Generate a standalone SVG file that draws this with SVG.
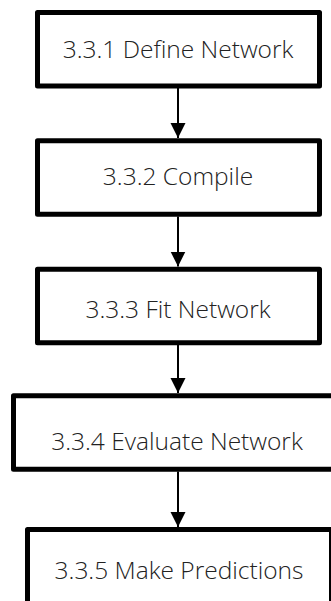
<svg xmlns="http://www.w3.org/2000/svg" width="331" height="601" viewBox="0 0 331 601">
<style>
.box{fill:#fff;stroke:#000;stroke-width:5;stroke-linejoin:round}
.lbl{font-family:"Open Sans","Noto Sans",sans-serif;font-weight:300;font-size:24.5px;fill:#222;text-anchor:middle}
.edge{stroke:#000;stroke-width:2;fill:none}
</style>
<defs>
<marker id="ah" markerUnits="userSpaceOnUse" markerWidth="16" markerHeight="16" viewBox="0 0 16 16" refX="15" refY="8" orient="auto">
<path d="M0,0.5 L15,8 L0,15.5 Z" fill="#000"/>
</marker>
</defs>
<rect width="331" height="601" fill="#fff"/>
<g id="n1"><rect class="box" x="37.5" y="12.5" width="282" height="73.5"/><text class="lbl" x="178" y="58">3.3.1 Define Network</text></g>
<g id="n2"><rect class="box" x="37.5" y="140.8" width="282" height="73.5"/><text class="lbl" x="178" y="185">3.3.2 Compile</text></g>
<g id="n3"><rect class="box" x="37.5" y="269.2" width="282" height="73.5"/><text class="lbl" x="178" y="318">3.3.3 Fit Network</text></g>
<g id="n4"><rect class="box" x="13.5" y="395.8" width="330" height="73.5"/><text class="lbl" x="177" y="450">3.3.4 Evaluate Network</text></g>
<g id="n5"><rect class="box" x="27.5" y="529.5" width="304" height="90"/><text class="lbl" x="179" y="579">3.3.5 Make Predictions</text></g>
<g id="edges">
<line class="edge" x1="178" y1="88" x2="178" y2="138" marker-end="url(#ah)"/>
<line class="edge" x1="178" y1="216.5" x2="178" y2="266.5" marker-end="url(#ah)"/>
<line class="edge" x1="178" y1="345" x2="178" y2="393" marker-end="url(#ah)"/>
<line class="edge" x1="178" y1="471.5" x2="178" y2="527" marker-end="url(#ah)"/>
</g>
</svg>
